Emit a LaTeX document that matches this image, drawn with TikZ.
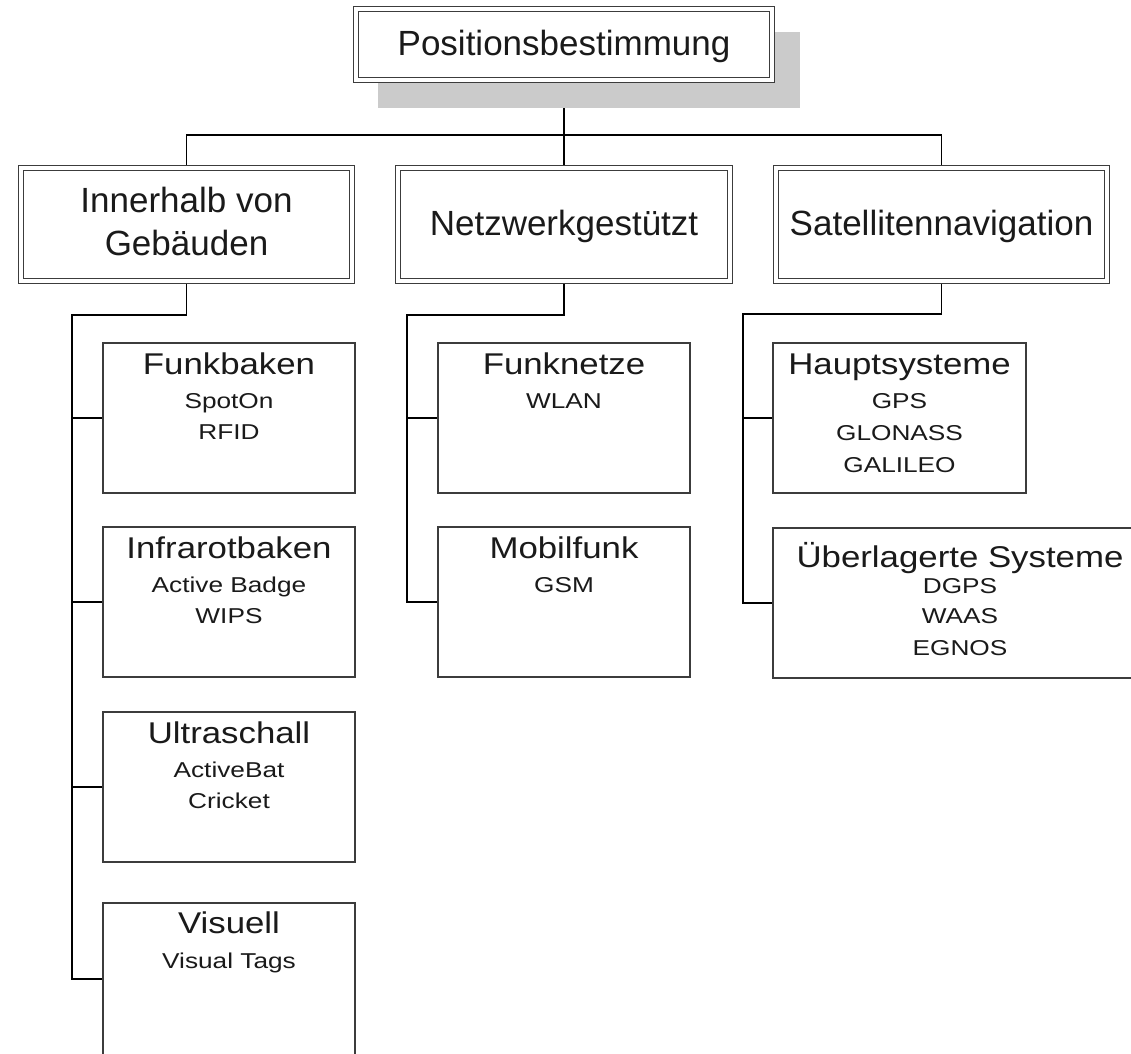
\documentclass[tikz,border=0pt]{standalone}
\usepackage{fontspec}
\setmainfont{Liberation Sans}
\newfontfamily\headfont[FakeStretch=1.16]{Liberation Sans}
\newfontfamily\subfont[FakeStretch=1.22]{Liberation Sans}
\usetikzlibrary{calc,backgrounds}
\definecolor{boxline}{HTML}{3C3C3C}
\definecolor{shadowgray}{HTML}{CBCBCB}
\definecolor{txt}{HTML}{1A1A1A}
\tikzset{
  dblbox/.style={draw=boxline, line width=1.8pt, double=white, double distance=3.2pt, fill=white, inner sep=0pt, outer sep=0pt, text=txt},
  leaf/.style={draw=boxline, line width=1.9pt, fill=white, inner sep=0pt, outer sep=0pt, anchor=north west},
  conn/.style={draw=black, line width=1.7pt},
  bigtxt/.style={anchor=base, inner sep=0pt, text=txt, font=\fontsize{35}{42}\selectfont},
  headtxt/.style={anchor=base, inner sep=0pt, text=txt, font=\headfont\fontsize{30}{36}\selectfont},
  subtxt/.style={anchor=base, inner sep=0pt, text=txt, font=\subfont\fontsize{21.5}{26}\selectfont},
}
\begin{document}
\begin{tikzpicture}[x=1pt,y=-1pt]
\useasboundingbox (0,0) rectangle (1131,1053);
\clip (0,0) rectangle (1131,1053);

% shadow of the root box
\fill[shadowgray] (378,32) rectangle (800,108);

% root
\node[dblbox, minimum width=416pt, minimum height=71pt] (root) at (564,44.5) {};
\node[bigtxt] (roott) at (564,55) {Positionsbestimmung};

% level 1
\node[dblbox, minimum width=331pt, minimum height=113pt] (A) at (186.5,224.5) {};
\node[bigtxt] (At1) at (186.5,212) {Innerhalb von};
\node[bigtxt] (At2) at (186.5,255) {Gebäuden};
\node[dblbox, minimum width=332pt, minimum height=113pt] (B) at (564,224.5) {};
\node[bigtxt] (Bt) at (564,235) {Netzwerkgestützt};
\node[dblbox, minimum width=331pt, minimum height=113pt] (C) at (941.5,224.5) {};
\node[bigtxt] (Ct) at (941.5,235) {Satellitennavigation};

% leaves column A
\node[leaf, minimum width=252pt, minimum height=150pt] (fb) at (103,343) {};
\node[headtxt] (fbh) at ($(fb.north)+(0,31)$) {Funkbaken};
\node[subtxt] (fb1) at ($(fb.north)+(0,65)$) {SpotOn};
\node[subtxt] (fb2) at ($(fb.north)+(0,96)$) {RFID};

\node[leaf, minimum width=252pt, minimum height=150pt] (ir) at (103,527) {};
\node[headtxt] (irh) at ($(ir.north)+(0,31)$) {Infrarotbaken};
\node[subtxt] (ir1) at ($(ir.north)+(0,65)$) {Active Badge};
\node[subtxt] (ir2) at ($(ir.north)+(0,96)$) {WIPS};

\node[leaf, minimum width=252pt, minimum height=150pt] (us) at (103,712) {};
\node[headtxt] (ush) at ($(us.north)+(0,31)$) {Ultraschall};
\node[subtxt] (us1) at ($(us.north)+(0,65)$) {ActiveBat};
\node[subtxt] (us2) at ($(us.north)+(0,96)$) {Cricket};

\node[leaf, minimum width=252pt, minimum height=152pt] (vi) at (103,903) {};
\node[headtxt] (vih) at ($(vi.north)+(0,30)$) {Visuell};
\node[subtxt] (vi1) at ($(vi.north)+(0,65)$) {Visual Tags};

% leaves column B
\node[leaf, minimum width=252pt, minimum height=150pt] (fn) at (438,343) {};
\node[headtxt] (fnh) at ($(fn.north)+(0,31)$) {Funknetze};
\node[subtxt] (fn1) at ($(fn.north)+(0,65)$) {WLAN};

\node[leaf, minimum width=252pt, minimum height=150pt] (mf) at (438,527) {};
\node[headtxt] (mfh) at ($(mf.north)+(0,31)$) {Mobilfunk};
\node[subtxt] (mf1) at ($(mf.north)+(0,65)$) {GSM};

% leaves column C
\node[leaf, minimum width=253pt, minimum height=150pt] (hs) at (773,343) {};
\node[headtxt] (hsh) at ($(hs.north)+(0,31)$) {Hauptsysteme};
\node[subtxt] (hs1) at ($(hs.north)+(0,65)$) {GPS};
\node[subtxt] (hs2) at ($(hs.north)+(0,97)$) {GLONASS};
\node[subtxt] (hs3) at ($(hs.north)+(0,129)$) {GALILEO};

\node[leaf, minimum width=374pt, minimum height=150pt] (ue) at (773,528) {};
\node[headtxt] (ueh) at ($(ue.north)+(0,39)$) {Überlagerte Systeme};
\node[subtxt] (ue1) at ($(ue.north)+(0,65)$) {DGPS};
\node[subtxt] (ue2) at ($(ue.north)+(0,95)$) {WAAS};
\node[subtxt] (ue3) at ($(ue.north)+(0,127)$) {EGNOS};

% connectors
\coordinate (bus) at (0,135);
\coordinate (Aelb) at (72,315);
\coordinate (Belb) at (407,315);
\coordinate (Celb) at (743,314);
\begin{scope}[on background layer]
  \draw[conn] (root.south) -- (B.north);
  \draw[conn] (A.north) -- (A.north |- bus) -| (C.north);
  % column A
  \draw[conn] (A.south) |- (Aelb) -- (Aelb |- vi.west) -- (vi.west);
  \draw[conn] (Aelb |- fb.west) -- (fb.west);
  \draw[conn] (Aelb |- ir.west) -- (ir.west);
  \draw[conn] (Aelb |- us.west) -- (us.west);
  % column B
  \draw[conn] (B.south) |- (Belb) -- (Belb |- mf.west) -- (mf.west);
  \draw[conn] (Belb |- fn.west) -- (fn.west);
  % column C
  \draw[conn] (C.south) |- (Celb) -- (Celb |- ue.west) -- (ue.west);
  \draw[conn] (Celb |- hs.west) -- (hs.west);
\end{scope}
\end{tikzpicture}
\end{document}
